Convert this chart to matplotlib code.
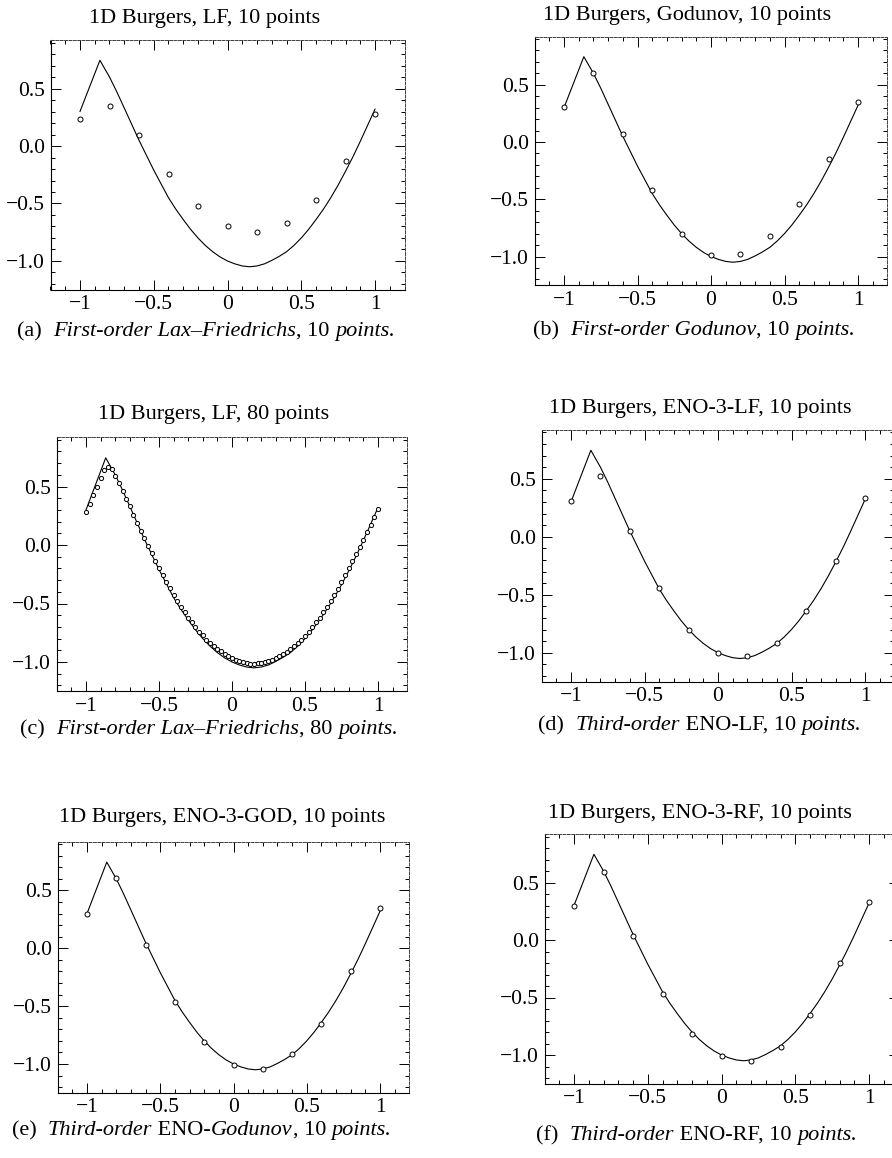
import numpy as np
import matplotlib
matplotlib.use('Agg')
import matplotlib.pyplot as plt
from matplotlib.ticker import MultipleLocator

W, H, DPI = 892, 1158, 100
plt.rcParams['font.family'] = ['Liberation Serif', 'DejaVu Serif']

# ---------------- data ----------------
x_exact = [-1.0, -0.865, -0.8, -0.75, -0.7, -0.65, -0.6, -0.55, -0.5, -0.45, -0.4,
           -0.35, -0.3, -0.25, -0.2, -0.15, -0.1, -0.05, 0.0, 0.05, 0.1, 0.15, 0.2,
           0.25, 0.3, 0.35, 0.4, 0.45, 0.5, 0.55, 0.6, 0.65, 0.7, 0.75, 0.8, 0.85,
           0.9, 0.95, 1.0]
u_exact = [0.30, 0.745, 0.60, 0.47, 0.33, 0.19, 0.05, -0.08, -0.21, -0.33, -0.45,
           -0.55, -0.64, -0.725, -0.80, -0.865, -0.92, -0.965, -1.00, -1.025, -1.043,
           -1.05, -1.043, -1.025, -0.995, -0.96, -0.92, -0.865, -0.80, -0.725, -0.64,
           -0.55, -0.45, -0.34, -0.22, -0.095, 0.04, 0.18, 0.32]

x10 = [-1.0, -0.8, -0.6, -0.4, -0.2, 0.0, 0.2, 0.4, 0.6, 0.8, 1.0]
lf10 = [0.235, 0.35, 0.096, -0.243, -0.52, -0.70, -0.75, -0.67, -0.47, -0.13, 0.28]
god10 = [0.31, 0.60, 0.07, -0.42, -0.80, -0.99, -0.98, -0.82, -0.545, -0.146, 0.35]
eno_lf10 = [0.31, 0.52, 0.05, -0.445, -0.80, -1.00, -1.03, -0.92, -0.64, -0.21, 0.33]
eno_god10 = [0.30, 0.61, 0.03, -0.467, -0.81, -1.01, -1.04, -0.91, -0.65, -0.20, 0.35]
eno_rf10 = [0.30, 0.59, 0.035, -0.47, -0.82, -1.01, -1.05, -0.93, -0.65, -0.20, 0.33]

x80 = np.linspace(-1.0, 1.0, 81)
lf80 = [0.28, 0.35, 0.43, 0.50, 0.57, 0.64, 0.67, 0.65, 0.59, 0.53,
        0.46, 0.39, 0.33, 0.26, 0.19, 0.12, 0.06, -0.01, -0.07, -0.14,
        -0.20, -0.26, -0.32, -0.37, -0.43, -0.48, -0.53, -0.57, -0.62, -0.66,
        -0.70, -0.74, -0.77, -0.81, -0.84, -0.86, -0.89, -0.91, -0.93, -0.95,
        -0.97, -0.98, -0.99, -1.00, -1.01, -1.015, -1.015, -1.01, -1.005, -1.00,
        -0.99, -0.98, -0.965, -0.95, -0.935, -0.915, -0.89, -0.865, -0.84, -0.81,
        -0.78, -0.74, -0.70, -0.66, -0.62, -0.575, -0.53, -0.48, -0.43, -0.38,
        -0.32, -0.26, -0.20, -0.14, -0.08, -0.02, 0.04, 0.11, 0.17, 0.24, 0.31]

titles = ["1D Burgers, LF, 10 points", "1D Burgers, Godunov, 10 points",
          "1D Burgers, LF, 80 points", "1D Burgers, ENO-3-LF, 10 points",
          "1D Burgers, ENO-3-GOD, 10 points", "1D Burgers, ENO-3-RF, 10 points"]
captions = [
    [("(a)  ", "normal"), ("First-order Lax\u2013Friedrichs", "italic"), (", 10 ", "normal"), ("points.", "italic")],
    [("(b)  ", "normal"), ("First-order Godunov", "italic"), (", 10 ", "normal"), ("points.", "italic")],
    [("(c)  ", "normal"), ("First-order Lax\u2013Friedrichs", "italic"), (", 80 ", "normal"), ("points.", "italic")],
    [("(d)  ", "normal"), ("Third-order", "italic"), (" ENO-LF, 10 ", "normal"), ("points.", "italic")],
    [("(e)  ", "normal"), ("Third-order", "italic"), (" ENO-", "normal"), ("Godunov", "italic"), (", 10 ", "normal"), ("points.", "italic")],
    [("(f)  ", "normal"), ("Third-order", "italic"), (" ENO-RF, 10 ", "normal"), ("points.", "italic")],
]
xticks = [-1, -0.5, 0, 0.5, 1]
xticklabels = ["\u22121", "\u22120.5", "0", "0.5", "1"]
yticks = [0.5, 0.0, -0.5, -1.0]
yticklabels = ["0.5", "0.0", "\u22120.5", "\u22121.0"]

series = [(x10, lf10), (x10, god10), (x80, lf80), (x10, eno_lf10), (x10, eno_god10), (x10, eno_rf10)]

# ---------------- layout (pixels) ----------------
# pixel of x=-1, x=1, y=0, y=-1 for each panel
geom = [(80, 375, 146, 261), (564, 858, 142, 256.5), (86, 378, 545, 662),
        (571, 865, 536.7, 652.7), (87, 380, 948.3, 1064), (574, 869, 940, 1055)]
title_pos = [(205, 23), (687, 20), (214, 419), (700, 413), (222, 822), (700, 818)]
cap_pos = [(17, 336), (533, 335), (20, 734), (538, 730), (12, 1135), (536, 1140)]

XL, XR, YB, YT = -1.2, 1.2, -1.25, 0.92

fig = plt.figure(figsize=(W / DPI, H / DPI), dpi=DPI)
fig.patch.set_facecolor('white')

for k in range(6):
    xm1, x1, y0, ym1 = geom[k]
    ppx = (x1 - xm1) / 2.0
    ppy = ym1 - y0
    left = xm1 + (XL + 1) * ppx
    right = x1 + (XR - 1) * ppx
    top = y0 - YT * ppy
    bottom = y0 - YB * ppy
    ax = fig.add_axes([left / W, 1 - bottom / H, (right - left) / W, (bottom - top) / H])
    ax.set_xlim(XL, XR)
    ax.set_ylim(YB, YT)
    ax.plot(x_exact, u_exact, color='black', lw=0.8, zorder=2)
    xs, ys = series[k]
    ms = 3.0 if k == 2 else 3.6
    ax.plot(xs, ys, linestyle='none', marker='o', ms=ms, mfc='white', mec='black',
            mew=0.7, zorder=3)
    ax.set_xticks(xticks)
    ax.set_xticklabels(xticklabels)
    ax.set_yticks(yticks)
    ax.set_yticklabels(yticklabels)
    ax.xaxis.set_minor_locator(MultipleLocator(0.1))
    ax.yaxis.set_minor_locator(MultipleLocator(0.1))
    ax.tick_params(which='both', direction='in', top=True, right=True, width=0.7,
                   labelsize=15.5, pad=4)
    ax.tick_params(which='major', length=7)
    ax.tick_params(which='minor', length=3)
    for side in ['left', 'bottom']:
        ax.spines[side].set_linewidth(0.8)
    for side in ['top', 'right']:
        ax.spines[side].set_linewidth(0.7)
        ax.spines[side].set_linestyle((0, (3, 1.5)))
        ax.spines[side].set_color('0.25')
    tx, ty = title_pos[k]
    fig.text(tx / W, 1 - ty / H, titles[k], ha='center', va='baseline', fontsize=16)

# captions with mixed roman/italic pieces
fig.canvas.draw()
r = fig.canvas.get_renderer()

def piece_width(s, style):
    t1 = fig.text(0, 0, s + "|", fontsize=16, style=style)
    t2 = fig.text(0, 0, "|", fontsize=16, style=style)
    w = t1.get_window_extent(r).width - t2.get_window_extent(r).width
    t1.remove(); t2.remove()
    return w

for k in range(6):
    cx, cy = cap_pos[k]
    for s, style in captions[k]:
        fig.text(cx / W, 1 - cy / H, s, ha='left', va='baseline', fontsize=16, style=style)
        cx += piece_width(s, style)

fig.savefig('out.png', dpi=DPI)
